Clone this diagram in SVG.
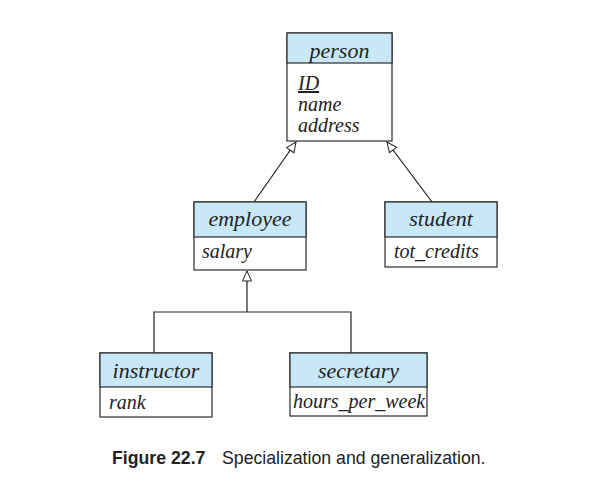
<svg xmlns="http://www.w3.org/2000/svg" width="604" height="480" viewBox="0 0 604 480">
<style>
.box{fill:#fff;stroke:#2b2b2b;stroke-width:1.2}
.hdr{fill:#c9e8f7;stroke:#2b2b2b;stroke-width:1.2}
.t{font-family:"Liberation Serif",serif;font-style:italic;font-size:22px;fill:#222;text-anchor:middle}
.a{font-family:"Liberation Serif",serif;font-style:italic;font-size:20px;fill:#222}
.c{stroke:#222;stroke-width:1.2;fill:none}
.cap{font-family:"Liberation Sans",Arial,sans-serif;font-size:17.7px;fill:#222}
</style>
<defs>
<marker id="tri" markerWidth="12" markerHeight="12" refX="11" refY="6" orient="auto" markerUnits="userSpaceOnUse">
<path d="M1,1.5 L11,6 L1,10.5 Z" fill="#fff" stroke="#222" stroke-width="1"/>
</marker>
</defs>
<g id="connectors">
<line class="c" x1="254" y1="202" x2="296" y2="142" marker-end="url(#tri)"/>
<line class="c" x1="432" y1="202" x2="387" y2="142" marker-end="url(#tri)"/>
<polyline class="c" points="154,353 154,312 351,312 351,353"/>
<line class="c" x1="247" y1="312" x2="247" y2="271" marker-end="url(#tri)"/>
</g>
<g id="person">
<rect class="box" x="287" y="33" width="105" height="108"/>
<rect class="hdr" x="287" y="33" width="105" height="30"/>
<text class="t" x="339.5" y="58">person</text>
<text class="a" x="298" y="90" text-decoration="underline">ID</text>
<text class="a" x="298" y="111">name</text>
<text class="a" x="298" y="132">address</text>
</g>
<g id="employee">
<rect class="box" x="194" y="202" width="112" height="68"/>
<rect class="hdr" x="194" y="202" width="112" height="35"/>
<text class="t" x="250" y="226">employee</text>
<text class="a" x="202" y="258">salary</text>
</g>
<g id="student">
<rect class="box" x="385" y="202" width="112" height="65"/>
<rect class="hdr" x="385" y="202" width="112" height="35"/>
<text class="t" x="441" y="226">student</text>
<text class="a" x="394" y="258">tot_credits</text>
</g>
<g id="instructor">
<rect class="box" x="100" y="353" width="112" height="64"/>
<rect class="hdr" x="100" y="353" width="112" height="34"/>
<text class="t" x="156" y="378">instructor</text>
<text class="a" x="109" y="409">rank</text>
</g>
<g id="secretary">
<rect class="box" x="290" y="353" width="137" height="63"/>
<rect class="hdr" x="290" y="353" width="137" height="34"/>
<text class="t" x="358.5" y="378">secretary</text>
<text class="a" x="293" y="408">hours_per_week</text>
</g>
<g id="caption">
<text class="cap" x="112" y="464"><tspan font-weight="bold">Figure 22.7</tspan><tspan x="222">Specialization and generalization.</tspan></text>
</g>
</svg>
